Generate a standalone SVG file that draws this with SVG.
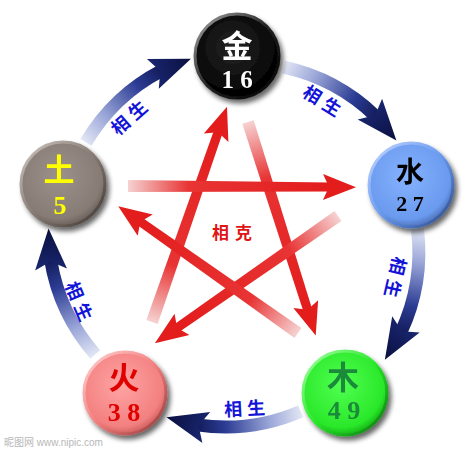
<svg xmlns="http://www.w3.org/2000/svg" width="474" height="450" viewBox="0 0 474 450">
<defs>
<style>
.node-char{font-family:"Noto Sans CJK SC","Noto Sans CJK JP",sans-serif;font-weight:bold;text-anchor:middle}
.node-num{font-family:"Liberation Serif",serif;font-weight:bold;text-anchor:middle}
.sheng{font-family:"Noto Sans CJK SC",sans-serif;font-weight:bold;font-size:18px;fill:#1414d8;text-anchor:middle;dominant-baseline:central;letter-spacing:5px}
.ke{font-family:"Noto Sans CJK SC",sans-serif;font-weight:bold;font-size:17px;fill:#e01515;text-anchor:middle;letter-spacing:6px}
.band{fill:none;stroke:url(#blueG);stroke-width:13}
.bhead{fill:url(#blueH)}
.rshaft{fill:url(#redG)}
.rhead{fill:#e31c1c}
.wm{font-family:"Liberation Sans","Noto Sans CJK SC",sans-serif;font-size:10px;fill:#b8b8b8}
</style>
<filter id="shadow" x="-30%" y="-30%" width="170%" height="170%">
<feGaussianBlur in="SourceAlpha" stdDeviation="2.5"/>
<feOffset dx="3" dy="4" result="b"/>
<feComponentTransfer><feFuncA type="linear" slope="0.6"/></feComponentTransfer>
<feMerge><feMergeNode/><feMergeNode in="SourceGraphic"/></feMerge>
</filter>
<linearGradient id="blueG" gradientUnits="userSpaceOnUse" x1="283" y1="67" x2="380" y2="120">
<stop offset="0" stop-color="#e2e6f4"/>
<stop offset="0.3" stop-color="#9aa6d8"/>
<stop offset="0.7" stop-color="#2c3c94"/>
<stop offset="1" stop-color="#0e1650"/>
</linearGradient>
<linearGradient id="blueH" gradientUnits="userSpaceOnUse" x1="370" y1="100" x2="396" y2="140">
<stop offset="0" stop-color="#1c2a78"/>
<stop offset="1" stop-color="#0a1040"/>
</linearGradient>
<linearGradient id="redG" x1="0" y1="0" x2="1" y2="0">
<stop offset="0" stop-color="#f6d2d2"/>
<stop offset="0.3" stop-color="#e83434"/>
<stop offset="1" stop-color="#e31c1c"/>
</linearGradient>
<radialGradient id="fJin" cx="0.45" cy="0.4" r="0.6"><stop offset="0" stop-color="#262626"/><stop offset="1" stop-color="#000"/></radialGradient>
<linearGradient id="rJin" x1="0" y1="0" x2="1" y2="1"><stop offset="0" stop-color="#a8a8a8"/><stop offset="0.5" stop-color="#222"/><stop offset="1" stop-color="#000"/></linearGradient>
<radialGradient id="fShui" cx="0.45" cy="0.4" r="0.6"><stop offset="0" stop-color="#86b2ff"/><stop offset="0.85" stop-color="#6a9aee"/><stop offset="1" stop-color="#4f74bc"/></radialGradient>
<linearGradient id="rShui" x1="0" y1="0" x2="1" y2="1"><stop offset="0" stop-color="#c4d8ff"/><stop offset="0.5" stop-color="#6a9aee"/><stop offset="1" stop-color="#2a4684"/></linearGradient>
<radialGradient id="fMu" cx="0.45" cy="0.4" r="0.6"><stop offset="0" stop-color="#50ff50"/><stop offset="0.85" stop-color="#2ae82a"/><stop offset="1" stop-color="#18b818"/></radialGradient>
<linearGradient id="rMu" x1="0" y1="0" x2="1" y2="1"><stop offset="0" stop-color="#a8ffa8"/><stop offset="0.5" stop-color="#2ae82a"/><stop offset="1" stop-color="#0a7010"/></linearGradient>
<radialGradient id="fHuo" cx="0.45" cy="0.4" r="0.6"><stop offset="0" stop-color="#ffa4a4"/><stop offset="0.85" stop-color="#f38080"/><stop offset="1" stop-color="#d06060"/></radialGradient>
<linearGradient id="rHuo" x1="0" y1="0" x2="1" y2="1"><stop offset="0" stop-color="#ffd4d4"/><stop offset="0.5" stop-color="#f38080"/><stop offset="1" stop-color="#8e3838"/></linearGradient>
<radialGradient id="fTu" cx="0.45" cy="0.4" r="0.6"><stop offset="0" stop-color="#9c928b"/><stop offset="0.85" stop-color="#877c75"/><stop offset="1" stop-color="#6c625c"/></radialGradient>
<linearGradient id="rTu" x1="0" y1="0" x2="1" y2="1"><stop offset="0" stop-color="#cfc7c1"/><stop offset="0.5" stop-color="#877c75"/><stop offset="1" stop-color="#3e3530"/></linearGradient>
<g id="sArrow">
<path class="band" d="M283.8,67.2 A190,190 0 0 1 376,116.6"/>
<polygon class="bhead" points="396.4,140.5 382.1,98.8 375.1,115.2 357.7,119.4"/>
</g>
</defs>
<rect width="474" height="450" fill="#fff"/>
<g id="connectors">
<g id="sheng-arrows">
<use href="#sArrow" transform="rotate(-71.6 237 242)"/>
<use href="#sArrow"/>
<use href="#sArrow" transform="rotate(71 237 242)"/>
<use href="#sArrow" transform="rotate(144.4 237 242)"/>
<use href="#sArrow" transform="rotate(216.6 237 242)"/>
</g>
<g id="ke-arrows">
<g transform="translate(152,322) rotate(-70.8)"><polygon class="rshaft" points="0,-6 202,-4.5 202,4.5 0,6"/><polygon class="rhead" points="228,0 195,-13 201,0 195,13"/></g>
<g transform="translate(248,122) rotate(72.4)"><polygon class="rshaft" points="0,-6 198,-4.5 198,4.5 0,6"/><polygon class="rhead" points="224,0 191,-13 197,0 191,13"/></g>
<g transform="translate(128,186) rotate(0.3)"><polygon class="rshaft" points="0,-6 202,-4.5 202,4.5 0,6"/><polygon class="rhead" points="228,0 195,-13 201,0 195,13"/></g>
<g transform="translate(338,216) rotate(145.2)"><polygon class="rshaft" points="0,-6 197,-4.5 197,4.5 0,6"/><polygon class="rhead" points="223,0 190,-13 196,0 190,13"/></g>
<g transform="translate(298,333) rotate(-144.8)"><polygon class="rshaft" points="0,-6 194,-4.5 194,4.5 0,6"/><polygon class="rhead" points="220,0 187,-13 193,0 187,13"/></g>
</g>
<g id="labels">
<text class="sheng" transform="translate(130,115) rotate(-41)">相生</text>
<text class="sheng" transform="translate(325,101) rotate(32)">相生</text>
<text class="sheng" transform="translate(396,280) rotate(103)">相生</text>
<text class="sheng" transform="translate(247,407) rotate(-3)">相生</text>
<text class="sheng" transform="translate(81,303) rotate(67)">相生</text>
<text class="ke" x="235" y="239">相克</text>
</g>
</g>
<g id="node-jin" filter="url(#shadow)">
<circle cx="237" cy="56" r="42" fill="url(#fJin)" stroke="url(#rJin)" stroke-width="3"/>
<text class="node-char" x="237" y="57" font-size="31" fill="#fff">金</text>
<text class="node-num" x="237" y="88" font-size="25" fill="#fff">1 6</text>
</g>
<g id="node-shui" filter="url(#shadow)">
<circle cx="411" cy="185" r="42" fill="url(#fShui)" stroke="url(#rShui)" stroke-width="3"/>
<text class="node-char" x="410" y="182" font-size="28" fill="#000">水</text>
<text class="node-num" x="410" y="211" font-size="22" fill="#000">2 7</text>
</g>
<g id="node-mu" filter="url(#shadow)">
<circle cx="345" cy="393" r="42" fill="url(#fMu)" stroke="url(#rMu)" stroke-width="3"/>
<text class="node-char" x="343" y="389" font-size="32" fill="#1a8a3a">木</text>
<text class="node-num" x="344" y="419" font-size="26" fill="#1a8a3a">4 9</text>
</g>
<g id="node-huo" filter="url(#shadow)">
<circle cx="125" cy="393" r="41" fill="url(#fHuo)" stroke="url(#rHuo)" stroke-width="3"/>
<text class="node-char" x="124" y="389" font-size="31" fill="#e00000">火</text>
<text class="node-num" x="124" y="421" font-size="26" fill="#e00000">3 8</text>
</g>
<g id="node-tu" filter="url(#shadow)">
<circle cx="63" cy="184" r="42" fill="url(#fTu)" stroke="url(#rTu)" stroke-width="3"/>
<text class="node-char" x="59" y="181" font-size="31" fill="#ffff00">土</text>
<text class="node-num" x="60" y="214" font-size="26" fill="#ffff00">5</text>
</g>
<text class="wm" x="4" y="446">昵图网 www.nipic.com</text>
</svg>
